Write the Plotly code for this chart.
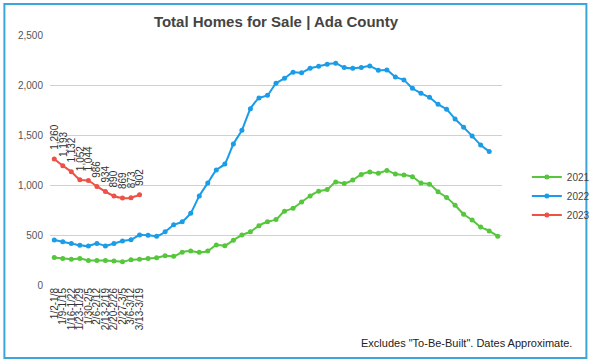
import plotly.graph_objects as go

week_labels = ["1/2-1/8", "1/9-1/15", "1/16-1/22", "1/23-1/29", "1/30-2/5", "2/6-2/12",
               "2/13-2/19", "2/20-2/26", "2/27-3/5", "3/6-3/12", "3/13-3/19"]

series_2021 = [275, 265, 257, 265, 245, 245, 245, 240, 233, 252, 257, 265, 273, 292, 287,
               328, 340, 327, 340, 400, 393, 448, 500, 532, 593, 632, 655, 738, 767, 830,
               890, 937, 955, 1030, 1015, 1050, 1105, 1130, 1117, 1145, 1110, 1100, 1083,
               1020, 1008, 933, 875, 797, 708, 650, 580, 541, 487]
series_2022 = [450, 432, 415, 398, 390, 416, 391, 414, 440, 453, 500, 498, 488, 532, 602,
               632, 718, 890, 1020, 1150, 1210, 1410, 1548, 1762, 1870, 1897, 2017, 2067,
               2127, 2123, 2167, 2187, 2207, 2217, 2175, 2167, 2175, 2191, 2147, 2150, 2080,
               2050, 1967, 1917, 1877, 1807, 1757, 1660, 1577, 1490, 1400, 1335]
series_2023 = [1260, 1193, 1132, 1052, 1044, 986, 934, 890, 869, 873, 902]

y_ticks = [0, 500, 1000, 1500, 2000, 2500]

colors = {"2021": "#56c63c", "2022": "#1a9ce8", "2023": "#ee5146"}
FONT = "Liberation Sans, Arial, sans-serif"

fig = go.Figure()
for name, vals in [("2021", series_2021), ("2022", series_2022), ("2023", series_2023)]:
    fig.add_trace(go.Scatter(
        x=list(range(len(vals))), y=vals, name=name, mode="lines+markers",
        line=dict(color=colors[name], width=2, shape="spline", smoothing=0.5),
        marker=dict(color=colors[name], size=5),
    ))

annotations = []
for i, v in enumerate(series_2023):
    annotations.append(dict(
        x=i, y=v, xref="x", yref="y", text=f"{v:,}", textangle=-90,
        showarrow=False, xanchor="center", yanchor="bottom", yshift=7,
        font=dict(family=FONT, size=10, color="#333333"),
    ))
annotations.append(dict(
    x=1.159, y=-0.232, xref="paper", yref="paper", xanchor="right", yanchor="middle",
    text='Excludes "To-Be-Built". Dates Approximate.', showarrow=False,
    font=dict(family=FONT, size=11, color="#222222"),
))

fig.update_layout(
    width=607, height=362,
    margin=dict(l=50, r=91, t=35, b=77),
    paper_bgcolor="white", plot_bgcolor="white",
    font=dict(family=FONT, size=10, color="#555555"),
    title=dict(text="<b>Total Homes for Sale | Ada County</b>", x=0.5, xref="paper",
               xanchor="center", y=0.94, yanchor="middle",
               font=dict(family=FONT, size=15, color="#444444")),
    showlegend=True,
    legend=dict(x=1.055, y=0.49, xanchor="left", yanchor="top",
                font=dict(family=FONT, size=10, color="#444444"),
                bgcolor="rgba(0,0,0,0)", tracegroupgap=0),
    annotations=annotations,
    shapes=[dict(type="rect", xref="paper", yref="paper",
                 x0=-0.1009, x1=1.1867, y0=-0.292, y1=1.124,
                 line=dict(color="#3da5dd", width=2), fillcolor="rgba(0,0,0,0)",
                 layer="below")],
)
fig.update_xaxes(
    range=[-0.5, 52.5], tickvals=list(range(len(week_labels))), ticktext=week_labels,
    tickangle=-90, showgrid=False, zeroline=False, showline=False, ticks="",
    tickfont=dict(family=FONT, size=10, color="#333333"),
)
fig.update_yaxes(
    range=[0, 2500], tickvals=y_ticks, ticktext=[f"{t:,}" for t in y_ticks],
    showgrid=True, gridcolor="#d0d0d0", gridwidth=1, zeroline=False, showline=False,
    ticks="", ticklabelstandoff=6,
    tickfont=dict(family=FONT, size=10, color="#555555"),
)

fig.write_html("out.html", config={"displayModeBar": False},
               post_script="document.body.style.margin='0';")
